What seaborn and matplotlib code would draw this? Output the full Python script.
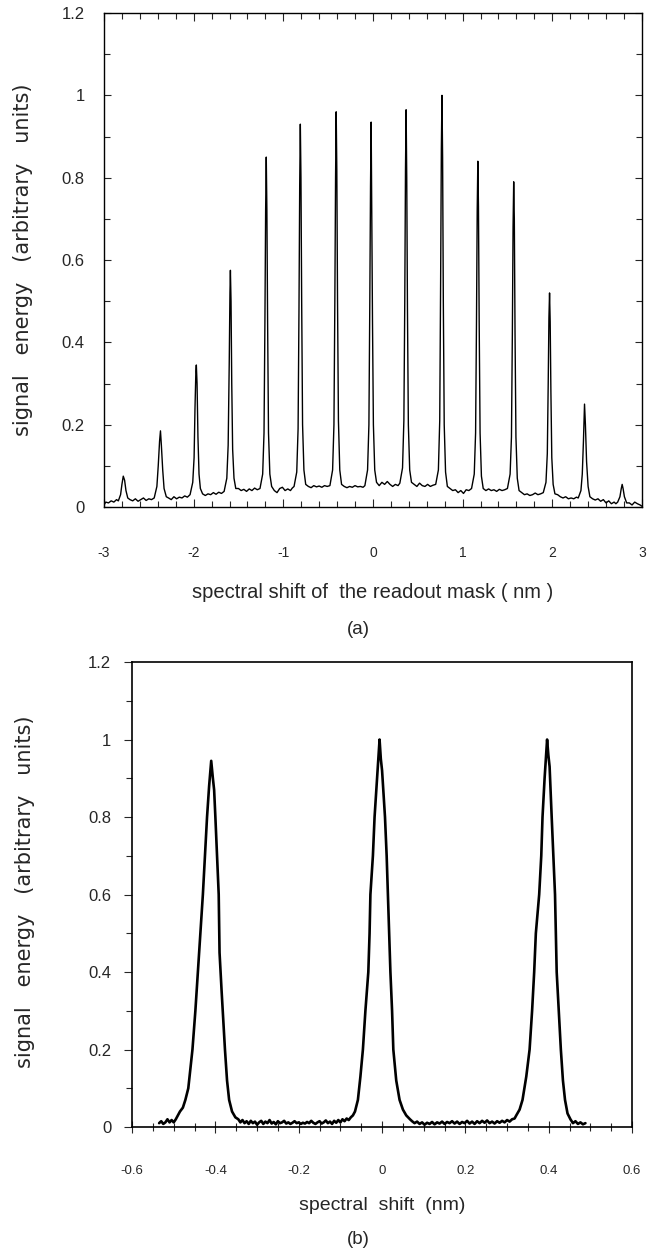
import numpy as np
import pandas as pd
import seaborn as sns
import matplotlib
matplotlib.use('Agg')
import matplotlib.pyplot as plt
from matplotlib.ticker import MultipleLocator, FixedLocator

# 读取自图片的曲线 (a)：读出掩模的光谱偏移 vs 信号能量
shift_a = [
    -3.0, -2.98, -2.95, -2.92, -2.89, -2.86,
    -2.84, -2.815, -2.80, -2.785, -2.77, -2.755, -2.735, -2.71,
    -2.68, -2.65, -2.62, -2.59, -2.56, -2.53, -2.50, -2.47,
    -2.44, -2.41, -2.395, -2.38, -2.37, -2.36, -2.345, -2.33, -2.305,
    -2.28, -2.25, -2.22, -2.19, -2.16, -2.13, -2.10, -2.07,
    -2.04, -2.01, -1.995, -1.985, -1.975, -1.97, -1.962, -1.952, -1.94, -1.925, -1.90,
    -1.87, -1.84, -1.81, -1.78, -1.75, -1.72, -1.69,
    -1.66, -1.63, -1.615, -1.603, -1.595, -1.59, -1.583, -1.575, -1.565, -1.55, -1.53,
    -1.50, -1.47, -1.44, -1.41, -1.38, -1.35, -1.32, -1.29,
    -1.26, -1.23, -1.215, -1.205, -1.197, -1.19, -1.183, -1.175, -1.165, -1.15, -1.13,
    -1.10, -1.07, -1.04, -1.01, -0.98, -0.95, -0.92, -0.90,
    -0.88, -0.85, -0.835, -0.825, -0.817, -0.81, -0.803, -0.795, -0.785, -0.77, -0.75,
    -0.72, -0.69, -0.66, -0.63, -0.60, -0.57, -0.54, -0.51,
    -0.48, -0.45, -0.435, -0.425, -0.417, -0.41, -0.403, -0.395, -0.385, -0.37, -0.35,
    -0.32, -0.29, -0.26, -0.23, -0.20, -0.17, -0.14, -0.11,
    -0.09, -0.06, -0.045, -0.035, -0.027, -0.02, -0.013, -0.005, 0.005, 0.02, 0.04,
    0.07, 0.10, 0.13, 0.16, 0.19, 0.22, 0.25, 0.28,
    0.30, 0.33, 0.345, 0.355, 0.363, 0.37, 0.377, 0.385, 0.395, 0.41, 0.43,
    0.46, 0.49, 0.52, 0.55, 0.58, 0.61, 0.64, 0.67,
    0.70, 0.73, 0.745, 0.755, 0.763, 0.77, 0.777, 0.785, 0.795, 0.81, 0.83,
    0.86, 0.89, 0.92, 0.95, 0.98, 1.01, 1.04, 1.07,
    1.10, 1.13, 1.145, 1.155, 1.163, 1.17, 1.177, 1.185, 1.195, 1.21, 1.23,
    1.26, 1.29, 1.32, 1.35, 1.38, 1.41, 1.44, 1.47,
    1.50, 1.53, 1.545, 1.555, 1.563, 1.57, 1.577, 1.585, 1.595, 1.61, 1.63,
    1.66, 1.69, 1.72, 1.75, 1.78, 1.81, 1.84, 1.87,
    1.90, 1.93, 1.945, 1.955, 1.963, 1.97, 1.977, 1.985, 1.995, 2.01, 2.03,
    2.06, 2.09, 2.12, 2.15, 2.18, 2.21, 2.24, 2.27,
    2.29, 2.32, 2.335, 2.348, 2.36, 2.37, 2.383, 2.40, 2.42,
    2.45, 2.48, 2.51, 2.54, 2.57, 2.60, 2.63, 2.66, 2.69, 2.71,
    2.73, 2.755, 2.77, 2.78, 2.79, 2.805, 2.83,
    2.86, 2.89, 2.92, 2.95, 2.98, 3.0,
]
energy_a = [
    0.005, 0.012, 0.010, 0.015, 0.012, 0.018,
    0.015, 0.030, 0.055, 0.075, 0.065, 0.040, 0.022, 0.018,
    0.015, 0.020, 0.014, 0.018, 0.022, 0.016, 0.020, 0.018,
    0.022, 0.050, 0.100, 0.160, 0.185, 0.150, 0.090, 0.045, 0.025,
    0.022, 0.018, 0.025, 0.020, 0.024, 0.022, 0.027, 0.024,
    0.030, 0.060, 0.120, 0.240, 0.330, 0.345, 0.300, 0.170, 0.080, 0.045, 0.032,
    0.028, 0.032, 0.030, 0.035, 0.031, 0.036, 0.033,
    0.038, 0.070, 0.150, 0.350, 0.520, 0.575, 0.500, 0.300, 0.140, 0.070, 0.045,
    0.045, 0.040, 0.043, 0.038, 0.044, 0.040, 0.046, 0.042,
    0.045, 0.080, 0.180, 0.450, 0.720, 0.850, 0.720, 0.450, 0.180, 0.080, 0.050,
    0.040, 0.035, 0.045, 0.048, 0.040, 0.044, 0.040, 0.046,
    0.050, 0.085, 0.190, 0.480, 0.780, 0.930, 0.800, 0.500, 0.200, 0.090, 0.055,
    0.050, 0.047, 0.052, 0.049, 0.051, 0.048, 0.052, 0.050,
    0.052, 0.090, 0.200, 0.500, 0.800, 0.960, 0.820, 0.500, 0.210, 0.090, 0.055,
    0.050, 0.047, 0.050, 0.048, 0.052, 0.049, 0.050, 0.048,
    0.052, 0.090, 0.200, 0.500, 0.780, 0.935, 0.700, 0.450, 0.200, 0.090, 0.060,
    0.052, 0.060, 0.055, 0.062, 0.055, 0.050, 0.055, 0.052,
    0.058, 0.095, 0.210, 0.500, 0.820, 0.965, 0.800, 0.480, 0.200, 0.090, 0.060,
    0.055, 0.050, 0.058, 0.052, 0.050, 0.055, 0.050, 0.053,
    0.055, 0.090, 0.210, 0.550, 0.870, 1.000, 0.850, 0.500, 0.200, 0.085, 0.050,
    0.045, 0.040, 0.042, 0.035, 0.040, 0.033, 0.042, 0.040,
    0.045, 0.080, 0.180, 0.450, 0.720, 0.840, 0.730, 0.450, 0.180, 0.075, 0.045,
    0.040, 0.044, 0.040, 0.042, 0.038, 0.043, 0.040, 0.042,
    0.045, 0.080, 0.170, 0.420, 0.680, 0.790, 0.700, 0.420, 0.170, 0.070, 0.040,
    0.035, 0.030, 0.032, 0.028, 0.030, 0.034, 0.030, 0.032,
    0.035, 0.060, 0.130, 0.300, 0.460, 0.520, 0.450, 0.280, 0.120, 0.055, 0.032,
    0.030, 0.025, 0.022, 0.025, 0.020, 0.022, 0.020, 0.024,
    0.022, 0.040, 0.080, 0.160, 0.250, 0.200, 0.110, 0.050, 0.025,
    0.020, 0.017, 0.020, 0.014, 0.018, 0.010, 0.015, 0.008, 0.012, 0.008,
    0.012, 0.025, 0.045, 0.055, 0.045, 0.025, 0.010,
    0.010, 0.005, 0.012, 0.008, 0.005, 0.002,
]

# 曲线 (b)：小范围扫描
shift_b = [
    -0.535, -0.53, -0.525, -0.52, -0.515, -0.51, -0.505, -0.50, -0.495, -0.49,
    -0.485, -0.478, -0.472, -0.465, -0.455, -0.448, -0.442, -0.436, -0.43, -0.425,
    -0.42, -0.415, -0.41, -0.406, -0.403, -0.40, -0.396, -0.392, -0.39, -0.385,
    -0.377, -0.372, -0.367, -0.36, -0.352, -0.345,
    -0.34, -0.335, -0.33, -0.325, -0.32, -0.315, -0.31, -0.305, -0.30, -0.295,
    -0.29, -0.285, -0.28, -0.275, -0.27, -0.265, -0.26, -0.255, -0.25, -0.245,
    -0.24, -0.235, -0.23, -0.225, -0.22, -0.215, -0.21, -0.205, -0.20, -0.195,
    -0.19, -0.185, -0.18, -0.175, -0.17, -0.165, -0.16, -0.155, -0.15, -0.145,
    -0.14, -0.135, -0.13, -0.125, -0.12, -0.115, -0.11, -0.105, -0.10, -0.095,
    -0.09, -0.085, -0.08, -0.075,
    -0.07, -0.065, -0.058, -0.052, -0.046, -0.04, -0.033, -0.03, -0.028, -0.022,
    -0.018, -0.012, -0.006, -0.003, 0.0, 0.004, 0.007, 0.011, 0.014, 0.017,
    0.02, 0.024, 0.027, 0.034, 0.042, 0.05, 0.058, 0.067,
    0.072, 0.078, 0.084, 0.09, 0.096, 0.102, 0.108, 0.114, 0.12, 0.126,
    0.132, 0.138, 0.144, 0.15, 0.156, 0.162, 0.168, 0.174, 0.18, 0.186,
    0.192, 0.198, 0.204, 0.21, 0.216, 0.222, 0.228, 0.234, 0.24, 0.246,
    0.252, 0.258, 0.264, 0.27, 0.276, 0.282, 0.288, 0.294, 0.30, 0.306,
    0.312, 0.318,
    0.322, 0.33, 0.337, 0.346, 0.354, 0.36, 0.365, 0.369, 0.377, 0.382,
    0.385, 0.39, 0.396, 0.399, 0.402, 0.405, 0.407, 0.411, 0.415, 0.417,
    0.419, 0.424, 0.429, 0.434, 0.439, 0.445, 0.452,
    0.458, 0.464, 0.47, 0.476, 0.482, 0.488,
]
energy_b = [
    0.010, 0.015, 0.008, 0.012, 0.020, 0.012, 0.018, 0.012, 0.020, 0.030,
    0.040, 0.050, 0.070, 0.100, 0.200, 0.300, 0.400, 0.500, 0.600, 0.700,
    0.800, 0.880, 0.945, 0.900, 0.870, 0.800, 0.700, 0.600, 0.450, 0.350,
    0.200, 0.120, 0.070, 0.040, 0.025, 0.020,
    0.012, 0.018, 0.010, 0.015, 0.008, 0.016, 0.010, 0.014, 0.006, 0.012,
    0.016, 0.008, 0.014, 0.010, 0.018, 0.009, 0.013, 0.007, 0.015, 0.010,
    0.012, 0.016, 0.009, 0.012, 0.008, 0.011, 0.015, 0.010, 0.012, 0.008,
    0.011, 0.009, 0.013, 0.010, 0.016, 0.011, 0.008, 0.012, 0.015, 0.009,
    0.012, 0.017, 0.010, 0.014, 0.008, 0.016, 0.011, 0.018, 0.012, 0.020,
    0.015, 0.022, 0.018, 0.025,
    0.030, 0.040, 0.070, 0.130, 0.200, 0.300, 0.400, 0.500, 0.600, 0.700,
    0.800, 0.900, 1.000, 0.950, 0.920, 0.850, 0.800, 0.700, 0.600, 0.500,
    0.400, 0.300, 0.200, 0.120, 0.070, 0.045, 0.030, 0.020,
    0.015, 0.010, 0.014, 0.008, 0.012, 0.006, 0.011, 0.008, 0.013, 0.007,
    0.012, 0.009, 0.014, 0.008, 0.013, 0.010, 0.015, 0.009, 0.014, 0.008,
    0.013, 0.010, 0.016, 0.009, 0.014, 0.008, 0.015, 0.010, 0.016, 0.011,
    0.017, 0.010, 0.014, 0.009, 0.015, 0.011, 0.016, 0.012, 0.018, 0.014,
    0.020, 0.022,
    0.030, 0.045, 0.070, 0.130, 0.200, 0.300, 0.400, 0.500, 0.600, 0.700,
    0.800, 0.900, 1.000, 0.960, 0.930, 0.850, 0.800, 0.700, 0.600, 0.500,
    0.400, 0.300, 0.200, 0.120, 0.070, 0.035, 0.020,
    0.010, 0.015, 0.008, 0.012, 0.007, 0.010,
]

xticks_a = [-3, -2, -1, 0, 1, 2, 3]
xticklabels_a = ['-3', '-2', '-1', '0', '1', '2', '3']
xticks_b = [-0.6, -0.4, -0.2, 0, 0.2, 0.4, 0.6]
xticklabels_b = ['-0.6', '-0.4', '-0.2', '0', '0.2', '0.4', '0.6']
yticks = [0, 0.2, 0.4, 0.6, 0.8, 1.0, 1.2]
yticklabels = ['0', '0.2', '0.4', '0.6', '0.8', '1', '1.2']

df_a = pd.DataFrame({'shift': shift_a, 'energy': energy_a})
df_b = pd.DataFrame({'shift': shift_b, 'energy': energy_b})

sns.set_style('ticks')
plt.rcParams['font.family'] = ['DejaVu Sans']
narrow = ['Liberation Sans Narrow', 'Liberation Sans', 'DejaVu Sans']

fig = plt.figure(figsize=(6.52, 12.51), dpi=100)
ax1 = fig.add_axes([0.1595, 0.5947, 0.825, 0.3949])
ax2 = fig.add_axes([0.2025, 0.0991, 0.767, 0.3717])

# ---- (a) ----
sns.lineplot(data=df_a, x='shift', y='energy', ax=ax1, color='black', lw=1.0,
             sort=False, estimator=None)
ax1.set_xlim(-3, 3)
ax1.set_ylim(0, 1.2)
ax1.xaxis.set_major_locator(FixedLocator(xticks_a))
ax1.xaxis.set_minor_locator(MultipleLocator(0.2))
ax1.yaxis.set_major_locator(FixedLocator(yticks))
ax1.yaxis.set_minor_locator(MultipleLocator(0.1))
ax1.set_xticklabels(xticklabels_a, family=narrow, fontsize=10)
ax1.set_yticklabels(yticklabels, family=narrow, fontsize=12)
ax1.tick_params(which='both', direction='in', top=True, right=True, width=0.8)
ax1.tick_params(axis='x', which='major', length=6, pad=28)
ax1.tick_params(axis='x', which='minor', length=4)
ax1.tick_params(axis='y', which='major', length=5, pad=14)
ax1.tick_params(axis='y', which='minor', length=4)
ax1.set_xlabel('spectral shift of  the readout mask ( nm )', family=narrow, fontsize=14.5)
ax1.set_ylabel('signal   energy   (arbitrary   units)', fontsize=15)
ax1.xaxis.set_label_coords(0.5, -0.172)
ax1.xaxis.label.set_va('center')
ax1.yaxis.set_label_coords(-0.150, 0.5)
ax1.yaxis.label.set_va('center')
for s in ax1.spines.values():
    s.set_linewidth(1.0)
    s.set_color('black')

# ---- (b) ----
sns.lineplot(data=df_b, x='shift', y='energy', ax=ax2, color='black', lw=1.9,
             sort=False, estimator=None)
ax2.set_xlim(-0.6, 0.6)
ax2.set_ylim(0, 1.2)
ax2.xaxis.set_major_locator(FixedLocator(xticks_b))
ax2.xaxis.set_minor_locator(MultipleLocator(0.05))
ax2.yaxis.set_major_locator(FixedLocator(yticks))
ax2.yaxis.set_minor_locator(MultipleLocator(0.1))
ax2.set_xticklabels(xticklabels_b, family=narrow, fontsize=9.5)
ax2.set_yticklabels(yticklabels, family=narrow, fontsize=12)
ax2.tick_params(which='both', top=False, right=False, width=0.8)
ax2.tick_params(axis='x', which='major', direction='inout', length=9, pad=23)
ax2.tick_params(axis='x', which='minor', direction='inout', length=6)
ax2.tick_params(axis='y', which='major', direction='out', length=6, pad=9)
ax2.tick_params(axis='y', which='minor', direction='out', length=4)
ax2.set_xlabel('spectral  shift  (nm)', family=narrow, fontsize=14)
ax2.set_ylabel('signal   energy   (arbitrary   units)', fontsize=15)
ax2.xaxis.set_label_coords(0.5, -0.168)
ax2.xaxis.label.set_va('center')
ax2.yaxis.set_label_coords(-0.214, 0.505)
ax2.yaxis.label.set_va('center')
for s in ax2.spines.values():
    s.set_linewidth(1.2)
    s.set_color('black')

fig.text(0.549, 1 - 630 / 1251, '(a)', ha='center', va='center', family=narrow, fontsize=13.5)
fig.text(0.549, 1 - 1240 / 1251, '(b)', ha='center', va='center', family=narrow, fontsize=13.5)

fig.savefig('out.png', dpi=100, facecolor='white')
